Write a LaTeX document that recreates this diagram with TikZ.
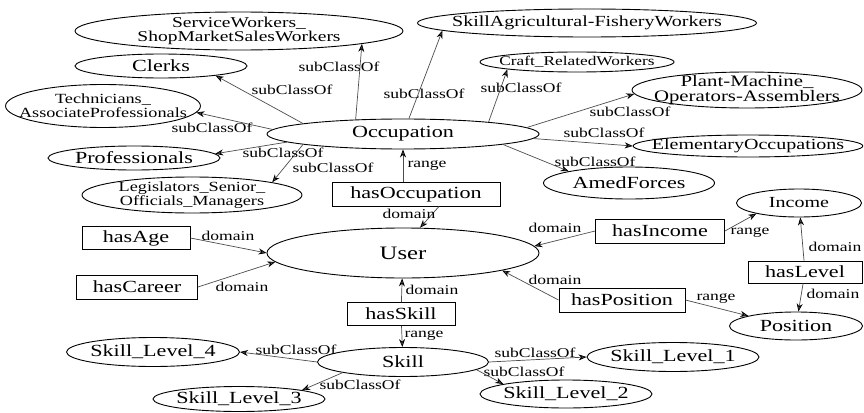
\documentclass[tikz,border=0pt]{standalone}
\usepackage{fontspec}
\setmainfont{Liberation Serif}[FakeStretch=1.3]
\usetikzlibrary{shapes.geometric,arrows.meta}

\begin{document}
\begin{tikzpicture}[x=1pt, y=-1pt,
cls/.style={draw, ellipse, inner sep=-15pt, line width=0.9pt, font=\fontsize{17}{19}\selectfont},
prop/.style={draw, rectangle, inner sep=0pt, line width=0.9pt, font=\fontsize{17}{19}\selectfont},
twoline/.style={font=\fontsize{14}{14}\selectfont, align=center},
lbl/.style={inner sep=0pt, font=\fontsize{13.5}{14}\selectfont},
conn/.style={color=black!70, line width=0.7pt, -{Stealth[black, length=8pt, width=6pt]}}]
\useasboundingbox (0,0) rectangle (864,412);

% classes
\node [cls, twoline, minimum width=328, minimum height=38, font=\fontsize{15}{14}\selectfont] (serv) at (239,31) {ServiceWorkers\_\\ShopMarketSalesWorkers};
\node [cls, minimum width=172, minimum height=24] (clerks) at (161,66) {Clerks};
\node [cls, twoline, minimum width=187, minimum height=43] (tech) at (103,106) {Technicians\_\\AssociateProfessionals};
\node [cls, minimum width=272, minimum height=30] (occ) at (403,134) {Occupation};
\node [cls, minimum width=172, minimum height=24] (prof) at (134,158) {Professionals};
\node [cls, twoline, minimum width=220, minimum height=36] (legis) at (192,195) {Legislators\_Senior\_\\Officials\_Managers};
\node [cls, minimum width=317, minimum height=28, font=\fontsize{15.4}{17}\selectfont] (agri) at (587,23) {SkillAgricultural-FisheryWorkers};
\node [cls, minimum width=194, minimum height=20, font=\fontsize{13.3}{15}\selectfont] (craft) at (577,62) {Craft\_RelatedWorkers};
\node [cls, twoline, minimum width=230, minimum height=36, font=\fontsize{16}{15}\selectfont] (plant) at (747,90) {Plant-Machine\_\\Operators-Assemblers};
\node [cls, minimum width=228, minimum height=22, font=\fontsize{15.4}{17}\selectfont] (elem) at (748,146) {ElementaryOccupations};
\node [cls, minimum width=171, minimum height=32] (amed) at (629,183) {AmedForces};
\node [cls, minimum width=125, minimum height=28, font=\fontsize{15.4}{17}\selectfont] (income) at (799,203) {Income};
\node [cls, minimum width=272, minimum height=50, font=\fontsize{19}{21}\selectfont] (user) at (403,253) {User};
\node [cls, minimum width=171, minimum height=29] (skill) at (403,362) {Skill};
\node [cls, minimum width=173, minimum height=29] (sl4) at (153,352) {Skill\_Level\_4};
\node [cls, minimum width=172, minimum height=25] (sl3) at (239,399) {Skill\_Level\_3};
\node [cls, minimum width=172, minimum height=29] (sl1) at (673,357) {Skill\_Level\_1};
\node [cls, minimum width=172, minimum height=28] (sl2) at (566,394) {Skill\_Level\_2};
\node [cls, minimum width=133, minimum height=28] (position) at (796,326) {Position};

% properties
\node [prop, minimum width=168, minimum height=24] (has_occ) at (416,194) {hasOccupation};
\node [prop, minimum width=108, minimum height=23] (has_age) at (136,238) {hasAge};
\node [prop, minimum width=121, minimum height=24] (has_career) at (137,287) {hasCareer};
\node [prop, minimum width=108, minimum height=23] (has_skill) at (401,314) {hasSkill};
\node [prop, minimum width=129, minimum height=24] (has_income) at (660,231) {hasIncome};
\node [prop, minimum width=126, minimum height=24] (has_position) at (622,300) {hasPosition};
\node [prop, minimum width=114, minimum height=22] (has_level) at (805,272) {hasLevel};

% subclasses of Occupation
\path [conn]
(occ.163) edge (serv.-6)
(occ.174) edge (clerks.-10)
(occ.178) edge (tech.-4)
(occ.184) edge (prof.3)
(occ.186) edge (legis.9)
(occ.69) edge (agri.183)
(occ.8) edge (craft.186)
(occ.3) edge (plant.182)
(occ.-2) edge (elem.180)
(occ.-6) edge (amed.169);

% properties
\path [conn]
(has_occ.north -| occ.south) edge (occ.south)
([xshift=23pt]has_occ.south) edge (user.56)
(has_age.east) edge (user.west)
(has_career.east) edge (user.184)
(has_skill) edge (user)
(has_skill) edge (skill)
(has_income.west) edge (user.3)
(has_income.east) edge (income.194)
(has_position.west) edge (user.-10)
(has_position.east) edge (position.168)
(has_level) edge (income)
(has_level) edge (position);

% subclasses of Skill
\path [conn]
(skill.west) edge (sl4.east)
(skill.190) edge (sl3.8)
(skill.east) edge (sl1.west)
(skill.-6) edge (sl2.171);

% edge labels
\node [lbl] (l_serv) at (339,67) {subClassOf};
\node [lbl] (l_clerks) at (292,90) {subClassOf};
\node [lbl] (l_tech) at (212,128) {subClassOf};
\node [lbl] (l_prof) at (283,153) {subClassOf};
\node [lbl] (l_legis) at (333,168) {subClassOf};
\node [lbl] (l_agri) at (424,94) {subClassOf};
\node [lbl] (l_craft) at (521,88) {subClassOf};
\node [lbl] (l_plant) at (630,112) {subClassOf};
\node [lbl] (l_elem) at (604,133) {subClassOf};
\node [lbl] (l_amed) at (595,162) {subClassOf};
\node [lbl] (l_occ_r) at (427,165) {range};
\node [lbl] (l_occ_d) at (409,214) {domain};
\node [lbl] (l_age) at (228,236) {domain};
\node [lbl] (l_career) at (242,287) {domain};
\node [lbl] (l_skill_d) at (432,290) {domain};
\node [lbl] (l_skill_r) at (424,335) {range};
\node [lbl] (l_sl4) at (296,350) {subClassOf};
\node [lbl] (l_sl3) at (360,385) {subClassOf};
\node [lbl] (l_sl1) at (535,353) {subClassOf};
\node [lbl] (l_sl2) at (524,372) {subClassOf};
\node [lbl] (l_inc_d) at (555,228) {domain};
\node [lbl] (l_inc_r) at (750,232) {range};
\node [lbl] (l_pos_d) at (555,280) {domain};
\node [lbl] (l_pos_r) at (716,298) {range};
\node [lbl] (l_lev_i) at (835,247) {domain};
\node [lbl] (l_lev_p) at (833,294) {domain};
\end{tikzpicture}
\end{document}
